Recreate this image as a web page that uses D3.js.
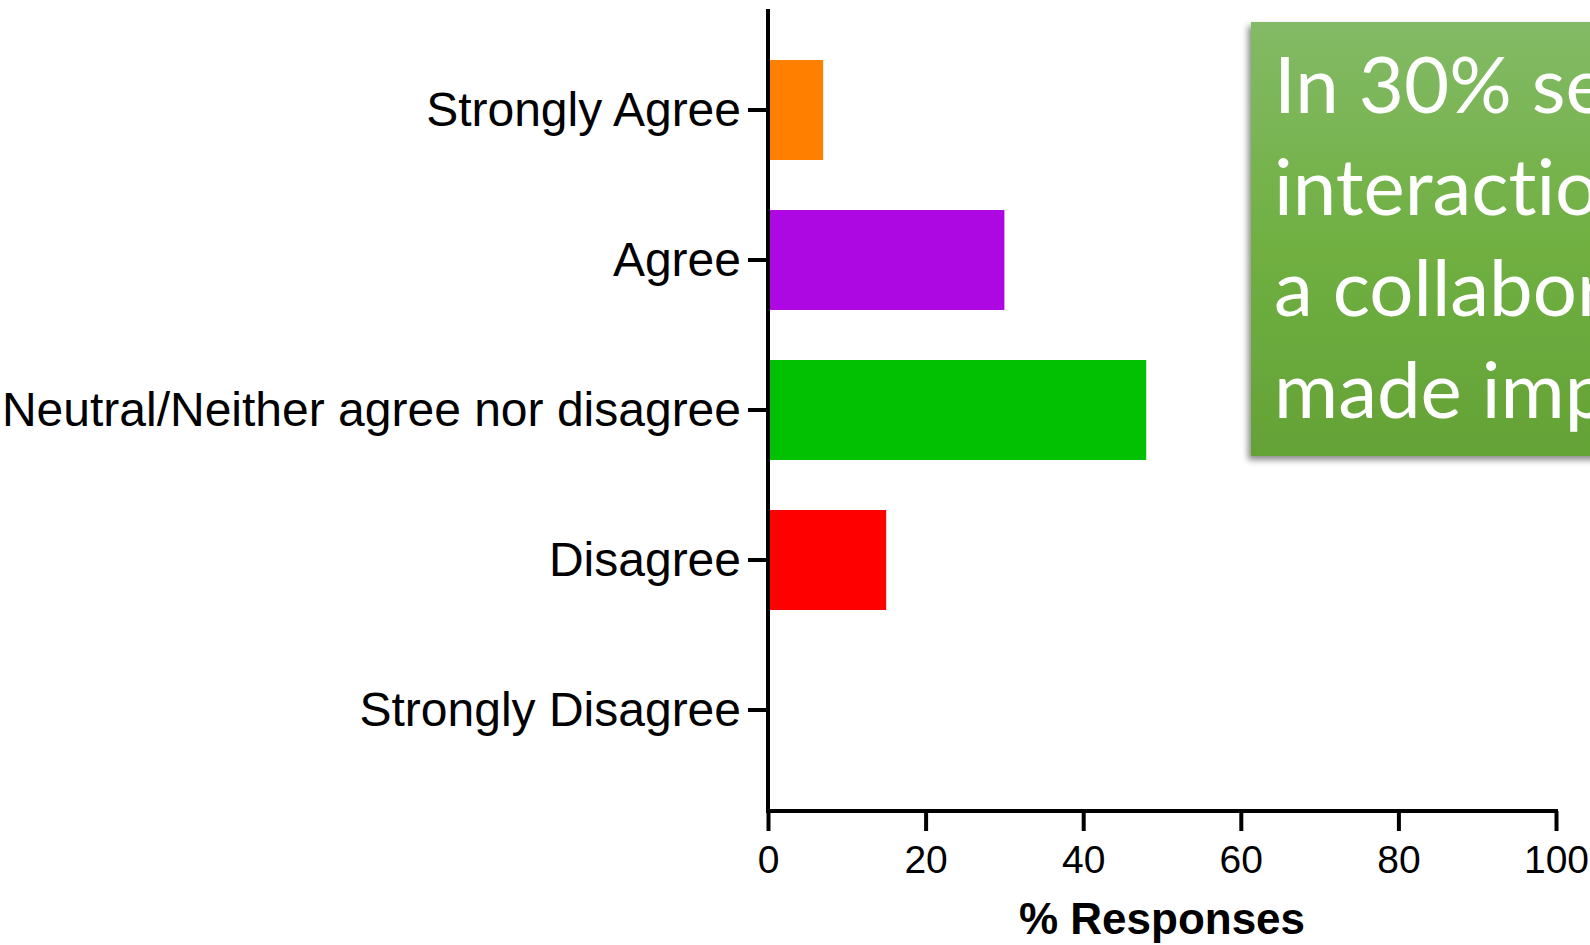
<!DOCTYPE html>
<html>
<head>
<meta charset="utf-8">
<script src="https://cdn.jsdelivr.net/npm/d3@7"></script>
<style>
  html, body { margin: 0; padding: 0; background: #fff; overflow: hidden; }
  #chart { width: 1590px; height: 945px; }
</style>
</head>
<body>
<div id="chart"></div>
<script>
// survey categories, top to bottom
const categories = ["Strongly Agree", "Agree", "Neutral/Neither agree nor disagree", "Disagree", "Strongly Disagree"];
const responses = [7, 30, 48, 15, 0];
const barColors = ["#ff8000", "#ad08e1", "#02c002", "#ff0000", "#888888"];
const xTicks = [0, 20, 40, 60, 80, 100];
const calloutLines = ["In 30% sessions", "interactions with", "a collaborator", "made important"];

const width = 1590, height = 945;
const axisLeft = 768, axisRight = 1556, axisTop = 9, axisBottom = 811;

const svg = d3.select("#chart")
  .append("svg")
  .attr("width", width)
  .attr("height", height);

const defs = svg.append("defs");
const grad = defs.append("linearGradient")
  .attr("id", "boxGrad")
  .attr("x1", 0).attr("y1", 0).attr("x2", 0).attr("y2", 1);
grad.append("stop").attr("offset", "0%").attr("stop-color", "#83ba66");
grad.append("stop").attr("offset", "50%").attr("stop-color", "#70b042");
grad.append("stop").attr("offset", "100%").attr("stop-color", "#64a236");
defs.append("filter")
  .attr("id", "shadow")
  .attr("x", "-10%").attr("y", "-10%").attr("width", "130%").attr("height", "130%")
  .append("feDropShadow")
  .attr("dx", -3).attr("dy", 4)
  .attr("stdDeviation", 3)
  .attr("flood-color", "#000")
  .attr("flood-opacity", 0.45);

const x = d3.scaleLinear().domain([0, 100]).range([axisLeft, axisRight]);
const y = d3.scaleBand()
  .domain(categories)
  .range([axisTop, axisBottom])
  .paddingInner(1 / 3)
  .paddingOuter(0.34);

// bars
svg.append("g")
  .selectAll("rect")
  .data(categories)
  .join("rect")
  .attr("x", x(0))
  .attr("y", d => y(d))
  .attr("width", (d, i) => x(responses[i]) - x(0))
  .attr("height", y.bandwidth())
  .attr("fill", (d, i) => barColors[i]);

// y axis
const yAxis = svg.append("g")
  .attr("transform", `translate(${axisLeft},0)`)
  .call(d3.axisLeft(y).tickSize(20).tickPadding(7));
yAxis.select(".domain").remove();
yAxis.append("line")
  .attr("x1", 0).attr("x2", 0)
  .attr("y1", axisTop).attr("y2", axisBottom + 2)
  .attr("stroke", "#000").attr("stroke-width", 4);
yAxis.selectAll(".tick line").attr("stroke", "#000").attr("stroke-width", 4);
yAxis.selectAll(".tick text")
  .attr("fill", "#000")
  .attr("dy", "0.34em")
  .style("font-family", "'Liberation Sans', Arial, sans-serif")
  .style("font-size", "48px");

// x axis
const xAxis = svg.append("g")
  .attr("transform", `translate(0,${axisBottom})`)
  .call(d3.axisBottom(x).tickValues(xTicks).tickSize(20).tickPadding(14));
xAxis.select(".domain").remove();
xAxis.append("line")
  .attr("x1", axisLeft - 2).attr("x2", axisRight + 2)
  .attr("y1", 0).attr("y2", 0)
  .attr("stroke", "#000").attr("stroke-width", 4);
xAxis.selectAll(".tick line").attr("stroke", "#000").attr("stroke-width", 4);
xAxis.selectAll(".tick text")
  .attr("fill", "#000")
  .style("font-family", "'Liberation Sans', Arial, sans-serif")
  .style("font-size", "39px");

svg.append("text")
  .attr("x", 1162)
  .attr("y", 934)
  .attr("text-anchor", "middle")
  .style("font-family", "'Liberation Sans', Arial, sans-serif")
  .style("font-size", "44px")
  .style("font-weight", "bold")
  .text("% Responses");

// callout box (runs off the right edge, as in the slide)
const box = svg.append("g");
box.append("rect")
  .attr("x", 1251).attr("y", 22)
  .attr("width", 420).attr("height", 434)
  .attr("fill", "url(#boxGrad)")
  .attr("filter", "url(#shadow)");
box.selectAll("text")
  .data(calloutLines)
  .join("text")
  .attr("x", 1274)
  .attr("y", (d, i) => 113 + i * 101.7)
  .attr("fill", "#fff")
  .style("font-family", "Lato, 'Open Sans', sans-serif")
  .style("font-size", "78px")
  .style("font-variant-ligatures", "none")
  .style("font-feature-settings", "'liga' 0")
  .text(d => d);
</script>
</body>
</html>
